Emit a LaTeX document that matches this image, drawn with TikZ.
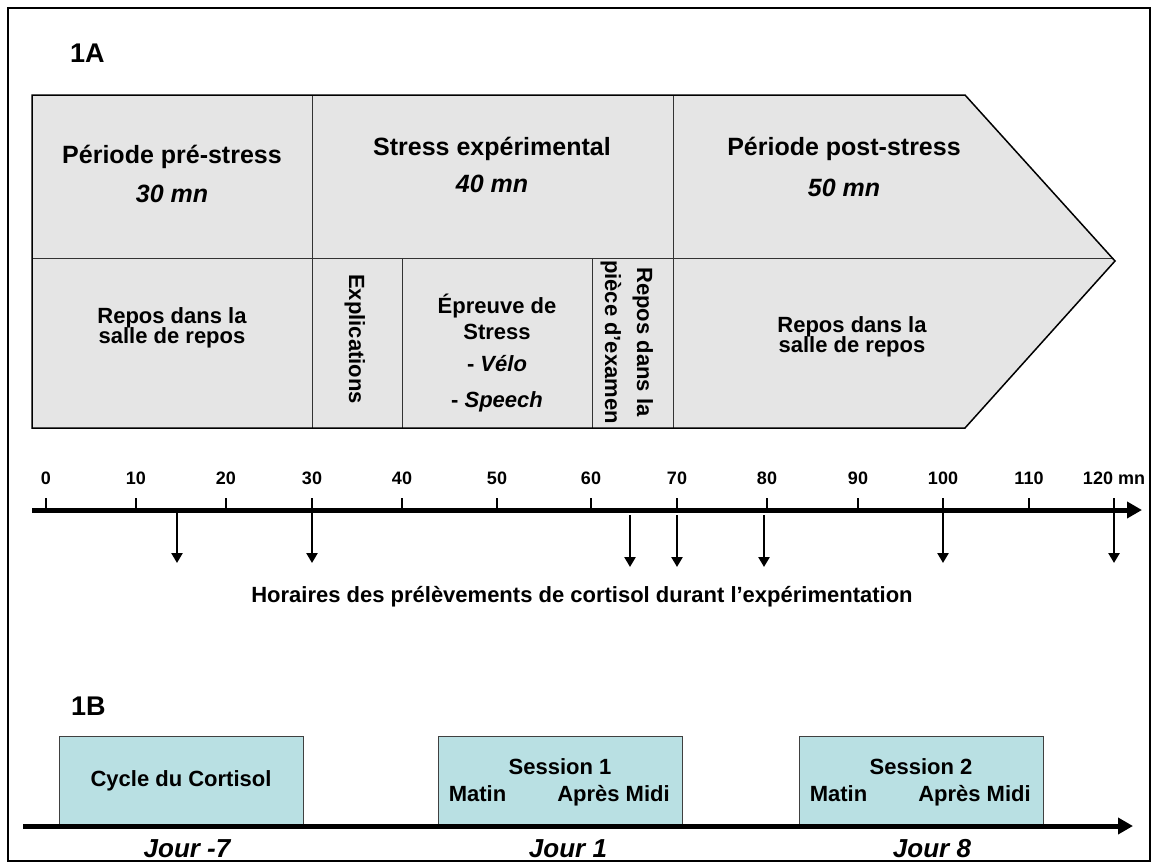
\documentclass[tikz,border=0pt]{standalone}
\usepackage{fontspec}
\setmainfont{Liberation Sans}
\usepackage{xcolor}
\usepackage{tikz}
\usetikzlibrary{positioning,calc,patterns,arrows.meta}
\definecolor{visitteal}{RGB}{185,224,227}
\definecolor{phasegray}{RGB}{229,229,229}

\begin{document}
\begin{tikzpicture}[x=1pt, y=-1pt,
    panel/.style={font=\fontsize{27}{27}\selectfont\bfseries, inner sep=0pt, anchor=base west},
    head/.style={font=\fontsize{25}{25}\selectfont\bfseries, inner sep=0pt, anchor=base},
    dur/.style={head, font=\fontsize{25}{25}\selectfont\bfseries\itshape},
    cell/.style={font=\fontsize{22}{22}\selectfont\bfseries, inner sep=0pt, anchor=base},
    vcell/.style={cell, rotate=-90},
    minute/.style={font=\fontsize{18}{18}\selectfont\bfseries, inner sep=0pt, anchor=base},
    day/.style={font=\fontsize{26}{26}\selectfont\bfseries\itshape, inner sep=0pt, anchor=base},
    divider/.style={draw=black!80, line width=1pt},
    visit/.style={draw=black!75, fill=visitteal, line width=1pt, minimum width=244pt, minimum height=90pt, inner sep=0pt, font=\fontsize{22}{22}\selectfont\bfseries},
    axis/.style={line width=5pt, -{Triangle[length=15pt,width=16pt]}},
    sample/.style={line width=2.5pt, -{Triangle[length=10pt,width=11pt]}}
]
\useasboundingbox (0,0) rectangle (1152,863);
\draw[line width=2pt] (8,8) rectangle (1150,861);

\node[panel] (lblA) at (70,62) {1A};

\coordinate (pA) at (32,95);
\coordinate (pB) at (965,95);
\coordinate (tip) at (1115,261);
\coordinate (pC) at (965,428);
\coordinate (pD) at (32,428);
\fill[phasegray] (pA) -- (pB) -- (tip) -- (pC) -- (pD) -- cycle;
\fill[pattern=grid, pattern color=black!10] (pA) -- (pB) -- (tip) -- (pC) -- (pD) -- cycle;
\draw[divider] (32,258) -- (1112,258);
\draw[divider] (312,95) -- (312,428);
\draw[divider] (673,95) -- (673,428);
\draw[divider] (402,258) -- (402,428);
\draw[divider] (592,258) -- (592,428);
\draw[line width=1.5pt] (pA) -- (pB) -- (tip) -- (pC) -- (pD) -- cycle;

\node[head] (preT) at (172,163) {Période pré-stress};
\node[dur] (preD) at (172,202) {30 mn};
\node[head] (strT) at (492,155) {Stress expérimental};
\node[dur] (strD) at (492,192) {40 mn};
\node[head] (postT) at (844,155) {Période post-stress};
\node[dur] (postD) at (844,196) {50 mn};

\node[cell] (restA1) at (172,323) {Repos dans la};
\node[cell] (restA2) at (172,343) {salle de repos};
\node[vcell] (expl) at (349,339) {Explications};
\node[cell] (test1) at (497,313) {Épreuve de};
\node[cell] (test2) at (497,339) {Stress};
\node[cell] (test3) at (497,371) {- \textit{Vélo}};
\node[cell] (test4) at (497,407) {- \textit{Speech}};
\node[vcell] (exam1) at (637,342) {Repos dans la};
\node[vcell] (exam2) at (605,342) {pièce d’examen};
\node[cell] (restB1) at (852,332) {Repos dans la};
\node[cell] (restB2) at (852,352) {salle de repos};

\coordinate (t0) at (32,510);
\coordinate (tEnd) at (1142,510);
\draw[axis] (t0) -- (tEnd);
\foreach \m/\x in {0/46,10/136,20/226,30/312,40/402,50/497,60/591,70/677,80/767,90/858,100/943,110/1029}{
  \draw[line width=2pt] (\x,498) -- (\x,510);
  \node[minute] (m\m) at (\x,484) {\m};
}
\draw[line width=2pt] (1114,498) -- (1114,510);
\node[minute] (m120) at (1114,484) {120 mn};
\foreach \k/\x/\ya/\yb in {15/177/512/563,30/312/510/563,65/630/515/567,70/677/515/567,80/764/515/567,100/943/510/563,120/1114/510/563}{
  \coordinate (s\k) at (\x,\ya);
  \coordinate (e\k) at (\x,\yb);
  \draw[sample] (s\k) -- (e\k);
}
\node[cell] (caption) at (582,602) {Horaires des prélèvements de cortisol durant l’expérimentation};

\node[panel] (lblB) at (71,715) {1B};
\node[visit] (cycle) at (181,781) {Cycle du Cortisol};
\node[visit] (ses1) at (560,781) {};
\node[visit] (ses2) at (921,781) {};
\foreach \s/\n in {ses1/1,ses2/2}{
  \node[cell] (\s t) at ($(\s.north)+(0,39)$) {Session \n};
  \node[cell] (\s m) at ($(\s.north west)+(40,66)$) {Matin};
  \node[cell] (\s a) at ($(\s.north east)+(-69,66)$) {Après Midi};
}
\coordinate (b0) at (23,826);
\coordinate (bEnd) at (1133,826);
\draw[axis] (b0) -- (bEnd);
\node[day] (day1) at ($(cycle.south)+(6,31)$) {Jour -7};
\node[day] (day2) at ($(ses1.south)+(8,31)$) {Jour 1};
\node[day] (day3) at ($(ses2.south)+(11,31)$) {Jour 8};
\end{tikzpicture}
\end{document}
